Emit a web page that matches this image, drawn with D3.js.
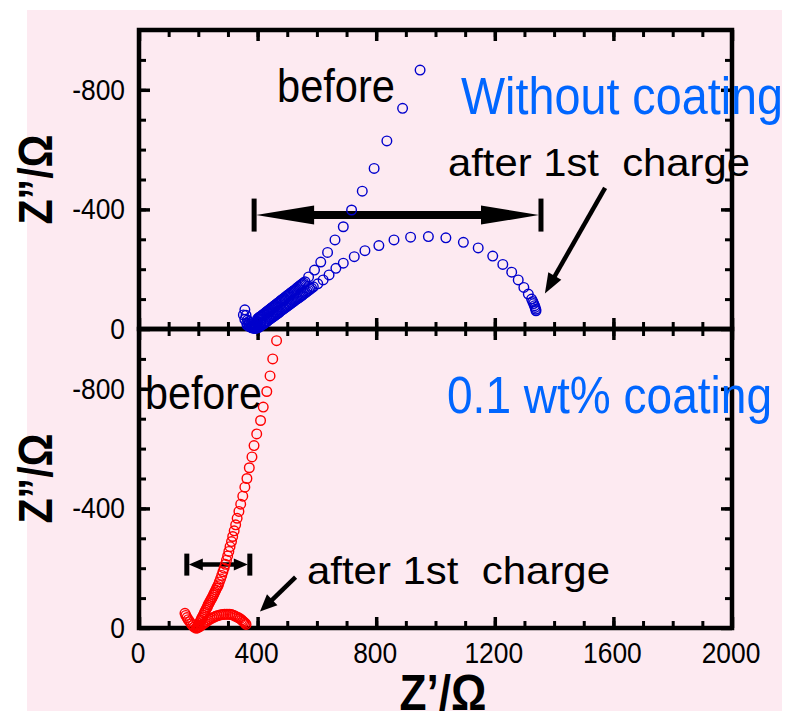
<!DOCTYPE html>
<html>
<head>
<meta charset="utf-8">
<script src="https://cdn.jsdelivr.net/npm/d3@7/dist/d3.min.js"></script>
<style>
	body { margin: 0; background: #fff; }
	svg text { font-family: "Liberation Sans", Arial, sans-serif; white-space: pre; }
</style>
</head>
<body>
<div id="chart"></div>
<script>
///////////////////////////////////////////////////////////////////////////
//////////////////////////// data /////////////////////////////////////////
///////////////////////////////////////////////////////////////////////////

// [Z', Z''] in ohm
const xTicks = [0, 400, 800, 1200, 1600, 2000];
const yTicks = [0, -400, -800];

// top panel: without coating
const topBefore = [
	[352, -47], [357, -32], [363, -20], [365, -12], [370, -11], [372, -8], [378, -6], [380, -4],
	[384, -12], [386, -6], [388, -2], [393, -14], [394, -9], [398, -24], [400, -34], [403, -36],
	[406, -39], [409, -41], [412, -43], [415, -45], [418, -48], [421, -50], [424, -52], [427, -55],
	[430, -57], [433, -59], [436, -62], [439, -64], [442, -66], [445, -69], [448, -71], [451, -73],
	[454, -76], [457, -78], [460, -80], [463, -83], [467, -86], [470, -88], [474, -91], [477, -94],
	[481, -97], [484, -99], [488, -102], [491, -104], [495, -108], [499, -111], [503, -114], [507, -117],
	[511, -120], [515, -123], [519, -126], [523, -129], [527, -132], [531, -135], [535, -139], [539, -142],
	[543, -145], [547, -148], [551, -151], [555, -154], [560, -158],
	[572, -174], [592, -197], [613, -224], [636, -256], [661, -298], [689, -342], [717, -398], [753, -461],
	[793, -537], [836, -629], [889, -738], [948, -866]
];
const topAfter = [
	[357, -64], [361, -46], [366, -30], [370, -25], [372, -17], [379, -8], [380, -18], [387, -3],
	[390, -15], [395, -2], [396, -4], [400, -20], [403, -5], [404, -8], [410, -10], [410, -22],
	[417, -15], [420, -17], [424, -20], [427, -22], [431, -25], [434, -28], [438, -31], [441, -33],
	[445, -36], [448, -38], [452, -41], [455, -43], [459, -46], [462, -48], [466, -51], [469, -53],
	[473, -56], [476, -59], [480, -62], [483, -64], [487, -67], [490, -69], [494, -72], [497, -74],
	[501, -77], [505, -80], [509, -83], [513, -86], [517, -89], [521, -92], [525, -95], [529, -98],
	[533, -101], [537, -103], [541, -106], [545, -109], [549, -112], [553, -115], [558, -119], [562, -122],
	[567, -126], [572, -129], [577, -133], [582, -137], [588, -141],
	[603, -151], [621, -164], [641, -181], [664, -203], [689, -220], [726, -242], [762, -262], [809, -279],
	[860, -298], [916, -307], [976, -309], [1035, -305], [1094, -290], [1144, -271], [1193, -244], [1227, -216],
	[1257, -190], [1279, -164], [1298, -139], [1313, -117], [1324, -100], [1328, -92], [1331, -85], [1334, -78],
	[1336, -72], [1338, -66], [1339, -61]
];

// bottom panel: 0.1 wt% coating
const bottomBefore = [
	[464, -961], [451, -900], [442, -843], [431, -791], [419, -739], [410, -694], [397, -649], [388, -610],
	[381, -572], [372, -536], [364, -500], [357, -471], [350, -441], [343, -414], [337, -390], [331, -367],
	[326, -345], [321, -325], [316, -306], [312, -289], [307, -272], [303, -256], [299, -241], [295, -227],
	[291, -213], [287, -200], [283, -188], [279, -176], [275, -164], [271, -154], [268, -145], [265, -139],
	[262, -133], [259, -127], [256, -121], [253, -115], [251, -110], [248, -104], [245, -99], [242, -93],
	[239, -88], [236, -82], [233, -77], [231, -71], [228, -66], [225, -60], [222, -54], [220, -49],
	[217, -43], [214, -37], [211, -32], [209, -26], [206, -21], [203, -15], [200, -10], [198, -5], [195, 0]
];
const bottomAfter = [
	[155, -49], [158, -42], [162, -35], [166, -28], [171, -21], [176, -14], [181, -8], [186, -3],
	[192, 0], [198, -1], [204, -4], [210, -9], [216, -13], [222, -17], [228, -21], [234, -26],
	[240, -30], [246, -33], [252, -36], [258, -39], [264, -41], [270, -43], [276, -44], [282, -45],
	[288, -46], [294, -46], [300, -46], [306, -46], [312, -45], [318, -43], [324, -40], [330, -37],
	[336, -34], [341, -31], [346, -27], [350, -23], [354, -20], [358, -16], [361, -12]
];

///////////////////////////////////////////////////////////////////////////
//////////////////////////// drawing function /////////////////////////////
///////////////////////////////////////////////////////////////////////////

const createChart = () => {
	const dimensions = {
		width: 789,
		height: 711,
		left: 139,
		right: 732,
		top: 30,
		middle: 329,
		bottom: 628
	};

	const svg = d3
		.select("#chart")
		.append("svg")
		.attr("width", dimensions.width)
		.attr("height", dimensions.height);

	// pink backdrop
	svg.append("rect")
		.attr("x", 27)
		.attr("y", 10)
		.attr("width", 755)
		.attr("height", 701)
		.attr("fill", "#fdeaf1");

	//////////////////////////// scales ///////////////////////////////////////

	const xScale = d3.scaleLinear().domain([0, 2000]).range([dimensions.left, dimensions.right]);
	const yTop = d3.scaleLinear().domain([0, -1000]).range([dimensions.middle, dimensions.top]);
	const yBottom = d3.scaleLinear().domain([0, -1000]).range([dimensions.bottom, dimensions.middle]);

	const minorX = d3.range(100, 2000, 100);
	const minorY = d3.range(-900, 0, 100);

	//////////////////////////// ticks ////////////////////////////////////////

	const tickAxis = (axisFn, scale, values, size, width, translate) => {
		const g = svg
			.append("g")
			.attr("transform", translate)
			.call(axisFn(scale).tickValues(values).tickSizeInner(-size).tickSizeOuter(0).tickFormat(""));
		g.select(".domain").remove();
		g.selectAll("line").attr("stroke", "#000").attr("stroke-width", width);
	};

	const drawPanel = (yScale) => {
		const y0 = yScale(0);
		const y1 = yScale(-1000);
		[[minorX, minorY, 7, 3], [xTicks, yTicks, 11, 3.5]].forEach(([xs, ys, size, w]) => {
			tickAxis(d3.axisBottom, xScale, xs, size, w, `translate(0,${y0})`);
			tickAxis(d3.axisTop, xScale, xs, size, w, `translate(0,${y1})`);
			tickAxis(d3.axisLeft, yScale, ys, size, w, `translate(${dimensions.left},0)`);
			tickAxis(d3.axisRight, yScale, ys, size, w, `translate(${dimensions.right},0)`);
		});
		svg.append("rect")
			.attr("x", dimensions.left)
			.attr("y", y1)
			.attr("width", dimensions.right - dimensions.left)
			.attr("height", y0 - y1)
			.attr("fill", "none")
			.attr("stroke", "#000")
			.attr("stroke-width", 4.5);

		// y tick labels
		svg.append("g")
			.selectAll("text")
			.data(yTicks)
			.enter()
			.append("text")
			.attr("transform", (d) => `translate(125,${yScale(d) + 10}) scale(0.88,1)`)
			.attr("text-anchor", "end")
			.attr("font-size", 30)
			.text((d) => d);

		// y title
		svg.append("text")
			.attr("transform", `translate(52,${(y0 + y1) / 2}) rotate(-90)`)
			.attr("text-anchor", "middle")
			.attr("font-size", 49)
			.attr("font-weight", "bold")
			.attr("textLength", 90)
			.attr("lengthAdjust", "spacingAndGlyphs")
			.text("Z\u201D/\u03A9");
	};

	drawPanel(yTop);
	drawPanel(yBottom);

	// x tick labels
	svg.append("g")
		.selectAll("text")
		.data(xTicks)
		.enter()
		.append("text")
		.attr("transform", (d) => `translate(${xScale(d) - 1},663) scale(0.88,1)`)
		.attr("text-anchor", "middle")
		.attr("font-size", 30)
		.text((d) => d);

	svg.append("text")
		.attr("x", 443)
		.attr("y", 710)
		.attr("text-anchor", "middle")
		.attr("font-size", 50)
		.attr("font-weight", "bold")
		.attr("textLength", 87)
		.attr("lengthAdjust", "spacingAndGlyphs")
		.text("Z\u2019/\u03A9");

	//////////////////////////// annotations //////////////////////////////////

	const arrowHead = (tip, from, len, half) => {
		const dx = from[0] - tip[0];
		const dy = from[1] - tip[1];
		const d = Math.hypot(dx, dy);
		const ux = dx / d;
		const uy = dy / d;
		const bx = tip[0] + ux * len;
		const by = tip[1] + uy * len;
		return [tip, [bx - uy * half, by + ux * half], [bx + uy * half, by - ux * half]];
	};

	const line = (a, b, w) =>
		svg.append("line")
			.attr("x1", a[0]).attr("y1", a[1])
			.attr("x2", b[0]).attr("y2", b[1])
			.attr("stroke", "#000")
			.attr("stroke-width", w);

	const head = (pts) =>
		svg.append("polygon").attr("points", pts.map((p) => p.join(",")).join(" ")).attr("fill", "#000");

	// span arrows |<--->|
	const spanArrow = (yScale, z1, z2, z, bar, shaft, len, half) => {
		const a = [xScale(z1), yScale(z)];
		const b = [xScale(z2), yScale(z)];
		line([a[0] + len * 0.8, a[1]], [b[0] - len * 0.8, b[1]], shaft);
		head(arrowHead(a, b, len, half));
		head(arrowHead(b, a, len, half));
		line([a[0] - 2, a[1] - bar], [a[0] - 2, a[1] + bar], 5);
		line([b[0] + 2, b[1] - bar], [b[0] + 2, b[1] + bar], 5);
	};

	spanArrow(yTop, 395, 1349, -381, 16.5, 8, 58, 9.5);
	spanArrow(yBottom, 168, 367, -212, 11, 4.5, 14, 6);

	// pointer arrows
	const pointer = (yScale, from, to, w, len, half) => {
		const a = [xScale(from[0]), yScale(from[1])];
		const b = [xScale(to[0]), yScale(to[1])];
		const d = Math.hypot(a[0] - b[0], a[1] - b[1]);
		const c = [b[0] + (a[0] - b[0]) * (len * 0.7) / d, b[1] + (a[1] - b[1]) * (len * 0.7) / d];
		line(a, c, w);
		head(arrowHead(b, a, len, half));
	};

	pointer(yTop, [1572, -472], [1369, -119], 4.5, 20, 7.5);
	pointer(yBottom, [528, -170], [408, -55], 4.5, 17, 7.5);

	// texts
	const label = (x, y, str, size, color, len) =>
		svg.append("text")
			.attr("x", x)
			.attr("y", y)
			.attr("font-size", size)
			.attr("fill", color)
			.attr("textLength", len)
			.attr("lengthAdjust", "spacingAndGlyphs")
			.text(str);

	label(277, 101.5, "before", 46, "#000", 118);
	label(461, 113.5, "Without coating", 51, "#0066ff", 322);
	label(448, 175.5, "after 1st  charge", 39, "#000", 302);
	label(145, 409, "before", 47, "#000", 117);
	label(447, 412.5, "0.1 wt% coating", 52, "#0066ff", 325);
	label(307, 584, "after 1st  charge", 39, "#000", 303);

	//////////////////////////// plot /////////////////////////////////////////

	const dots = (data, yScale, color) => {
		svg.append("g")
			.selectAll("circle")
			.data(data)
			.enter()
			.append("circle")
			.attr("cx", (d) => xScale(d[0]))
			.attr("cy", (d) => yScale(d[1]))
			.attr("r", 4.8)
			.attr("fill", "none")
			.attr("stroke", color)
			.attr("stroke-width", 1.4);
	};

	dots(topBefore, yTop, "#0000cc");
	dots(topAfter, yTop, "#0000cc");
	dots(bottomBefore, yBottom, "#ff0000");
	dots(bottomAfter, yBottom, "#ff0000");
};

createChart();
</script>
</body>
</html>
